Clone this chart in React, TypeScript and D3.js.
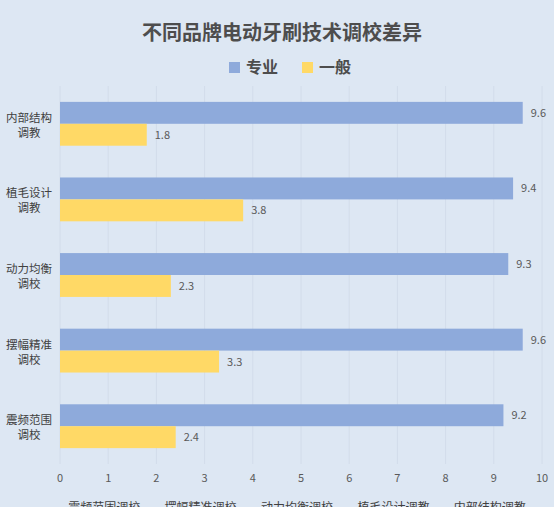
import * as d3 from 'd3';

const categories = ['内部结构调教', '植毛设计调教', '动力均衡调校', '摆幅精准调校', '震频范围调校'];
const labelLines = [
  ['内部结构', '调教'],
  ['植毛设计', '调教'],
  ['动力均衡', '调校'],
  ['摆幅精准', '调校'],
  ['震频范围', '调校'],
];
const seriesNames = ['专业', '一般'];
const professional = [9.6, 9.4, 9.3, 9.6, 9.2];
const general = [1.8, 3.8, 2.3, 3.3, 2.4];
const xTicks = [0, 1, 2, 3, 4, 5, 6, 7, 8, 9, 10];
const secondaryLabels = ['震频范围调校', '摆幅精准调校', '动力均衡调校', '植毛设计调教', '内部结构调教'];

const W = 554;
const H = 507;
const colors = ['#8eaadb', '#ffd966'];
const font = '"Noto Sans CJK SC", "Noto Sans", sans-serif';

export default function App() {
  const margin = { top: 86, right: 12, bottom: 43, left: 60 };
  const x = d3.scaleLinear().domain([0, 10]).range([margin.left, 542]);
  const y = d3.scaleBand().domain(categories).range([margin.top, H - margin.bottom]).paddingInner(0.42).paddingOuter(0.21);
  const sub = d3.scaleBand().domain(seriesNames).range([0, y.bandwidth()]);
  const series = [professional, general];
  const x2 = d3.scaleBand().domain(secondaryLabels).range([x(0), x(10)]);

  return (
    <div style={{ position: 'absolute', left: 0, top: 0 }}>
      <svg width={W} height={H} style={{ display: 'block', fontFamily: font }}>
        <rect x={0} y={0} width={W} height={H} fill="#dde7f3" />
        {xTicks.map((t) => (
          <line key={t} x1={x(t)} x2={x(t)} y1={margin.top} y2={H - margin.bottom} stroke="#d2dcea" strokeWidth={1} />
        ))}
        <text x={W / 2 + 5} y={40} textAnchor="middle" fontSize={20} fontWeight={700} fill="#4d4d4d">
          不同品牌电动牙刷技术调校差异
        </text>
        {seriesNames.map((name, i) => (
          <g key={name} transform={`translate(${229 + i * 73},62)`}>
            <rect width={11} height={11} fill={colors[i]} />
            <text x={17} y={11} fontSize={16} fontWeight={700} fill="#4d4d4d">{name}</text>
          </g>
        ))}
        {categories.map((c, ci) => (
          <g key={c}>
            {series.map((vals, si) => {
              const yy = (y(c) as number) + (sub(seriesNames[si]) as number);
              return (
                <g key={si}>
                  <rect x={x(0)} y={yy} width={x(vals[ci]) - x(0)} height={sub.bandwidth()} fill={colors[si]} />
                  <text x={x(vals[ci]) + 8} y={yy + sub.bandwidth() / 2 + 4} fontSize={11} fill="#595959">
                    {vals[ci]}
                  </text>
                </g>
              );
            })}
            {labelLines[ci].map((line, li) => (
              <text
                key={li}
                x={29}
                y={(y(c) as number) + y.bandwidth() / 2 - 2 + li * 15}
                textAnchor="middle"
                fontSize={11.5}
                fill="#404040"
              >
                {line}
              </text>
            ))}
          </g>
        ))}
        {xTicks.map((t) => (
          <text key={t} x={x(t)} y={482} textAnchor="middle" fontSize={11} fill="#595959">{t}</text>
        ))}
        {secondaryLabels.map((l) => (
          <text key={l} x={(x2(l) as number) + x2.bandwidth() / 2 - 4} y={512} textAnchor="middle" fontSize={12} fill="#404040">
            {l}
          </text>
        ))}
      </svg>
    </div>
  );
}
